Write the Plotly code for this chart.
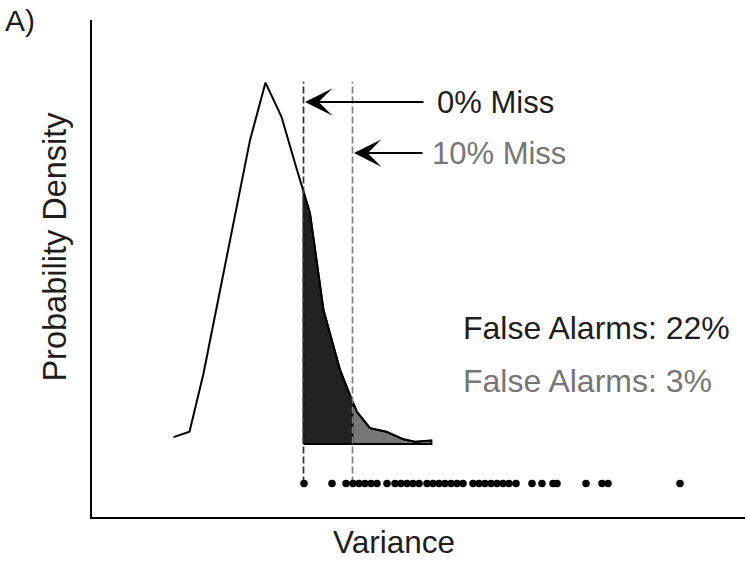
import numpy as np
import plotly.graph_objects as go

# Density curve (variance vs probability density, arbitrary units)
curve_x = [1.63, 1.95, 2.23, 3.16, 3.47, 3.79, 4.06, 4.23, 4.36, 4.63, 4.96,
           5.21, 5.30, 5.56, 5.89, 6.23, 6.46, 6.79]
curve_y = [0.019, 0.034, 0.196, 0.844, 1.004, 0.909, 0.780, 0.701, 0.641, 0.372,
           0.206, 0.118, 0.089, 0.044, 0.034, 0.013, 0.006, 0.010]

# Thresholds
thr_0miss = 4.23
thr_10miss = 5.21

# Observed variances (dots)
obs_x = [4.24, 4.80, 5.08, 5.22, 5.34, 5.46, 5.58, 5.70, 5.90, 6.06, 6.18, 6.30,
         6.42, 6.54, 6.70, 6.82, 6.94, 7.06, 7.18, 7.30, 7.42, 7.62, 7.74, 7.86,
         7.98, 8.10, 8.22, 8.34, 8.48, 8.80, 9.00, 9.22, 9.30, 9.88, 10.20, 10.32,
         11.76]
obs_level = -0.11

labels_miss = ["0% Miss", "10% Miss"]
labels_fa = ["False Alarms: 22%", "False Alarms: 3%"]

DARK = "#1e1e1e"
GRAY = "#767676"
FONT = "Liberation Sans, Arial, Helvetica, sans-serif"

cx = np.array(curve_x)
cy = np.array(curve_y)


def region(x0, x1):
    inside = (cx > x0) & (cx < x1)
    xs = [x0] + list(cx[inside]) + [x1]
    ys = [float(np.interp(x0, cx, cy))] + list(cy[inside]) + [float(np.interp(x1, cx, cy))]
    return [x0] + xs + [x1, x0], [0] + ys + [0, 0]


fig = go.Figure()

dx, dy = region(thr_0miss, thr_10miss)
fig.add_trace(go.Scatter(x=dx, y=dy, mode="lines", fill="toself", fillcolor="#222222",
                         line=dict(color="black", width=1.8), hoverinfo="skip"))
gx, gy = region(thr_10miss, curve_x[-1])
fig.add_trace(go.Scatter(x=gx, y=gy, mode="lines", fill="toself", fillcolor="#777777",
                         line=dict(color="black", width=1.8), hoverinfo="skip"))

fig.add_trace(go.Scatter(x=curve_x, y=curve_y, mode="lines",
                         line=dict(color="black", width=2)))

# dashed threshold lines
for thr, col in [(thr_0miss, "#333333"), (thr_10miss, "#808080")]:
    fig.add_trace(go.Scatter(x=[thr, thr], y=[obs_level, 1.006], mode="lines",
                             line=dict(color=col, width=1.7, dash="7px,3px")))

fig.add_trace(go.Scatter(x=obs_x, y=[obs_level] * len(obs_x), mode="markers",
                         marker=dict(color="black", size=7.5)))

ann = []
# arrows
for tip, tail, yy in [(thr_0miss + 0.03, 6.66, 0.95), (thr_10miss + 0.03, 6.64, 0.808)]:
    ann.append(dict(x=tip, y=yy, ax=tail, ay=yy, xref="x", yref="y", axref="x", ayref="y",
                    text="", showarrow=True, arrowhead=3, arrowsize=2.3, arrowwidth=2,
                    arrowcolor="black"))
ann.append(dict(x=6.86, y=0.95, xref="x", yref="y", text=labels_miss[0], showarrow=False,
                xanchor="left", yanchor="middle", font=dict(size=31, color=DARK, family=FONT)))
ann.append(dict(x=6.76, y=0.808, xref="x", yref="y", text=labels_miss[1], showarrow=False,
                xanchor="left", yanchor="middle", font=dict(size=31, color=GRAY, family=FONT)))
ann.append(dict(x=7.38, y=0.322, xref="x", yref="y", text=labels_fa[0], showarrow=False,
                xanchor="left", yanchor="middle", font=dict(size=32, color=DARK, family=FONT)))
ann.append(dict(x=7.38, y=0.175, xref="x", yref="y", text=labels_fa[1], showarrow=False,
                xanchor="left", yanchor="middle", font=dict(size=32, color=GRAY, family=FONT)))
# axis titles
ann.append(dict(x=0.462, y=-0.051, xref="paper", yref="paper", text="Variance", showarrow=False,
                xanchor="center", yanchor="middle", font=dict(size=31.5, color=DARK, family=FONT)))
ann.append(dict(x=-0.056, y=0.545, xref="paper", yref="paper", text="Probability Density",
                showarrow=False, textangle=-90, xanchor="center", yanchor="middle",
                font=dict(size=32.5, color=DARK, family=FONT)))
ann.append(dict(x=-0.110, y=1.0, xref="paper", yref="paper", text="A)", showarrow=False,
                xanchor="center", yanchor="middle", font=dict(size=30, color=DARK, family=FONT)))

fig.update_layout(
    width=747, height=563,
    margin=dict(l=92, r=2, t=20, b=46),
    paper_bgcolor="white", plot_bgcolor="white",
    showlegend=False,
    annotations=ann,
    xaxis=dict(range=[0, 13.06], showline=True, linecolor="black", linewidth=2,
               showgrid=False, zeroline=False, showticklabels=False, ticks=""),
    yaxis=dict(range=[-0.2028, 1.1778], showline=True, linecolor="black", linewidth=2,
               showgrid=False, zeroline=False, showticklabels=False, ticks=""),
)

fig.write_html("out.html")
